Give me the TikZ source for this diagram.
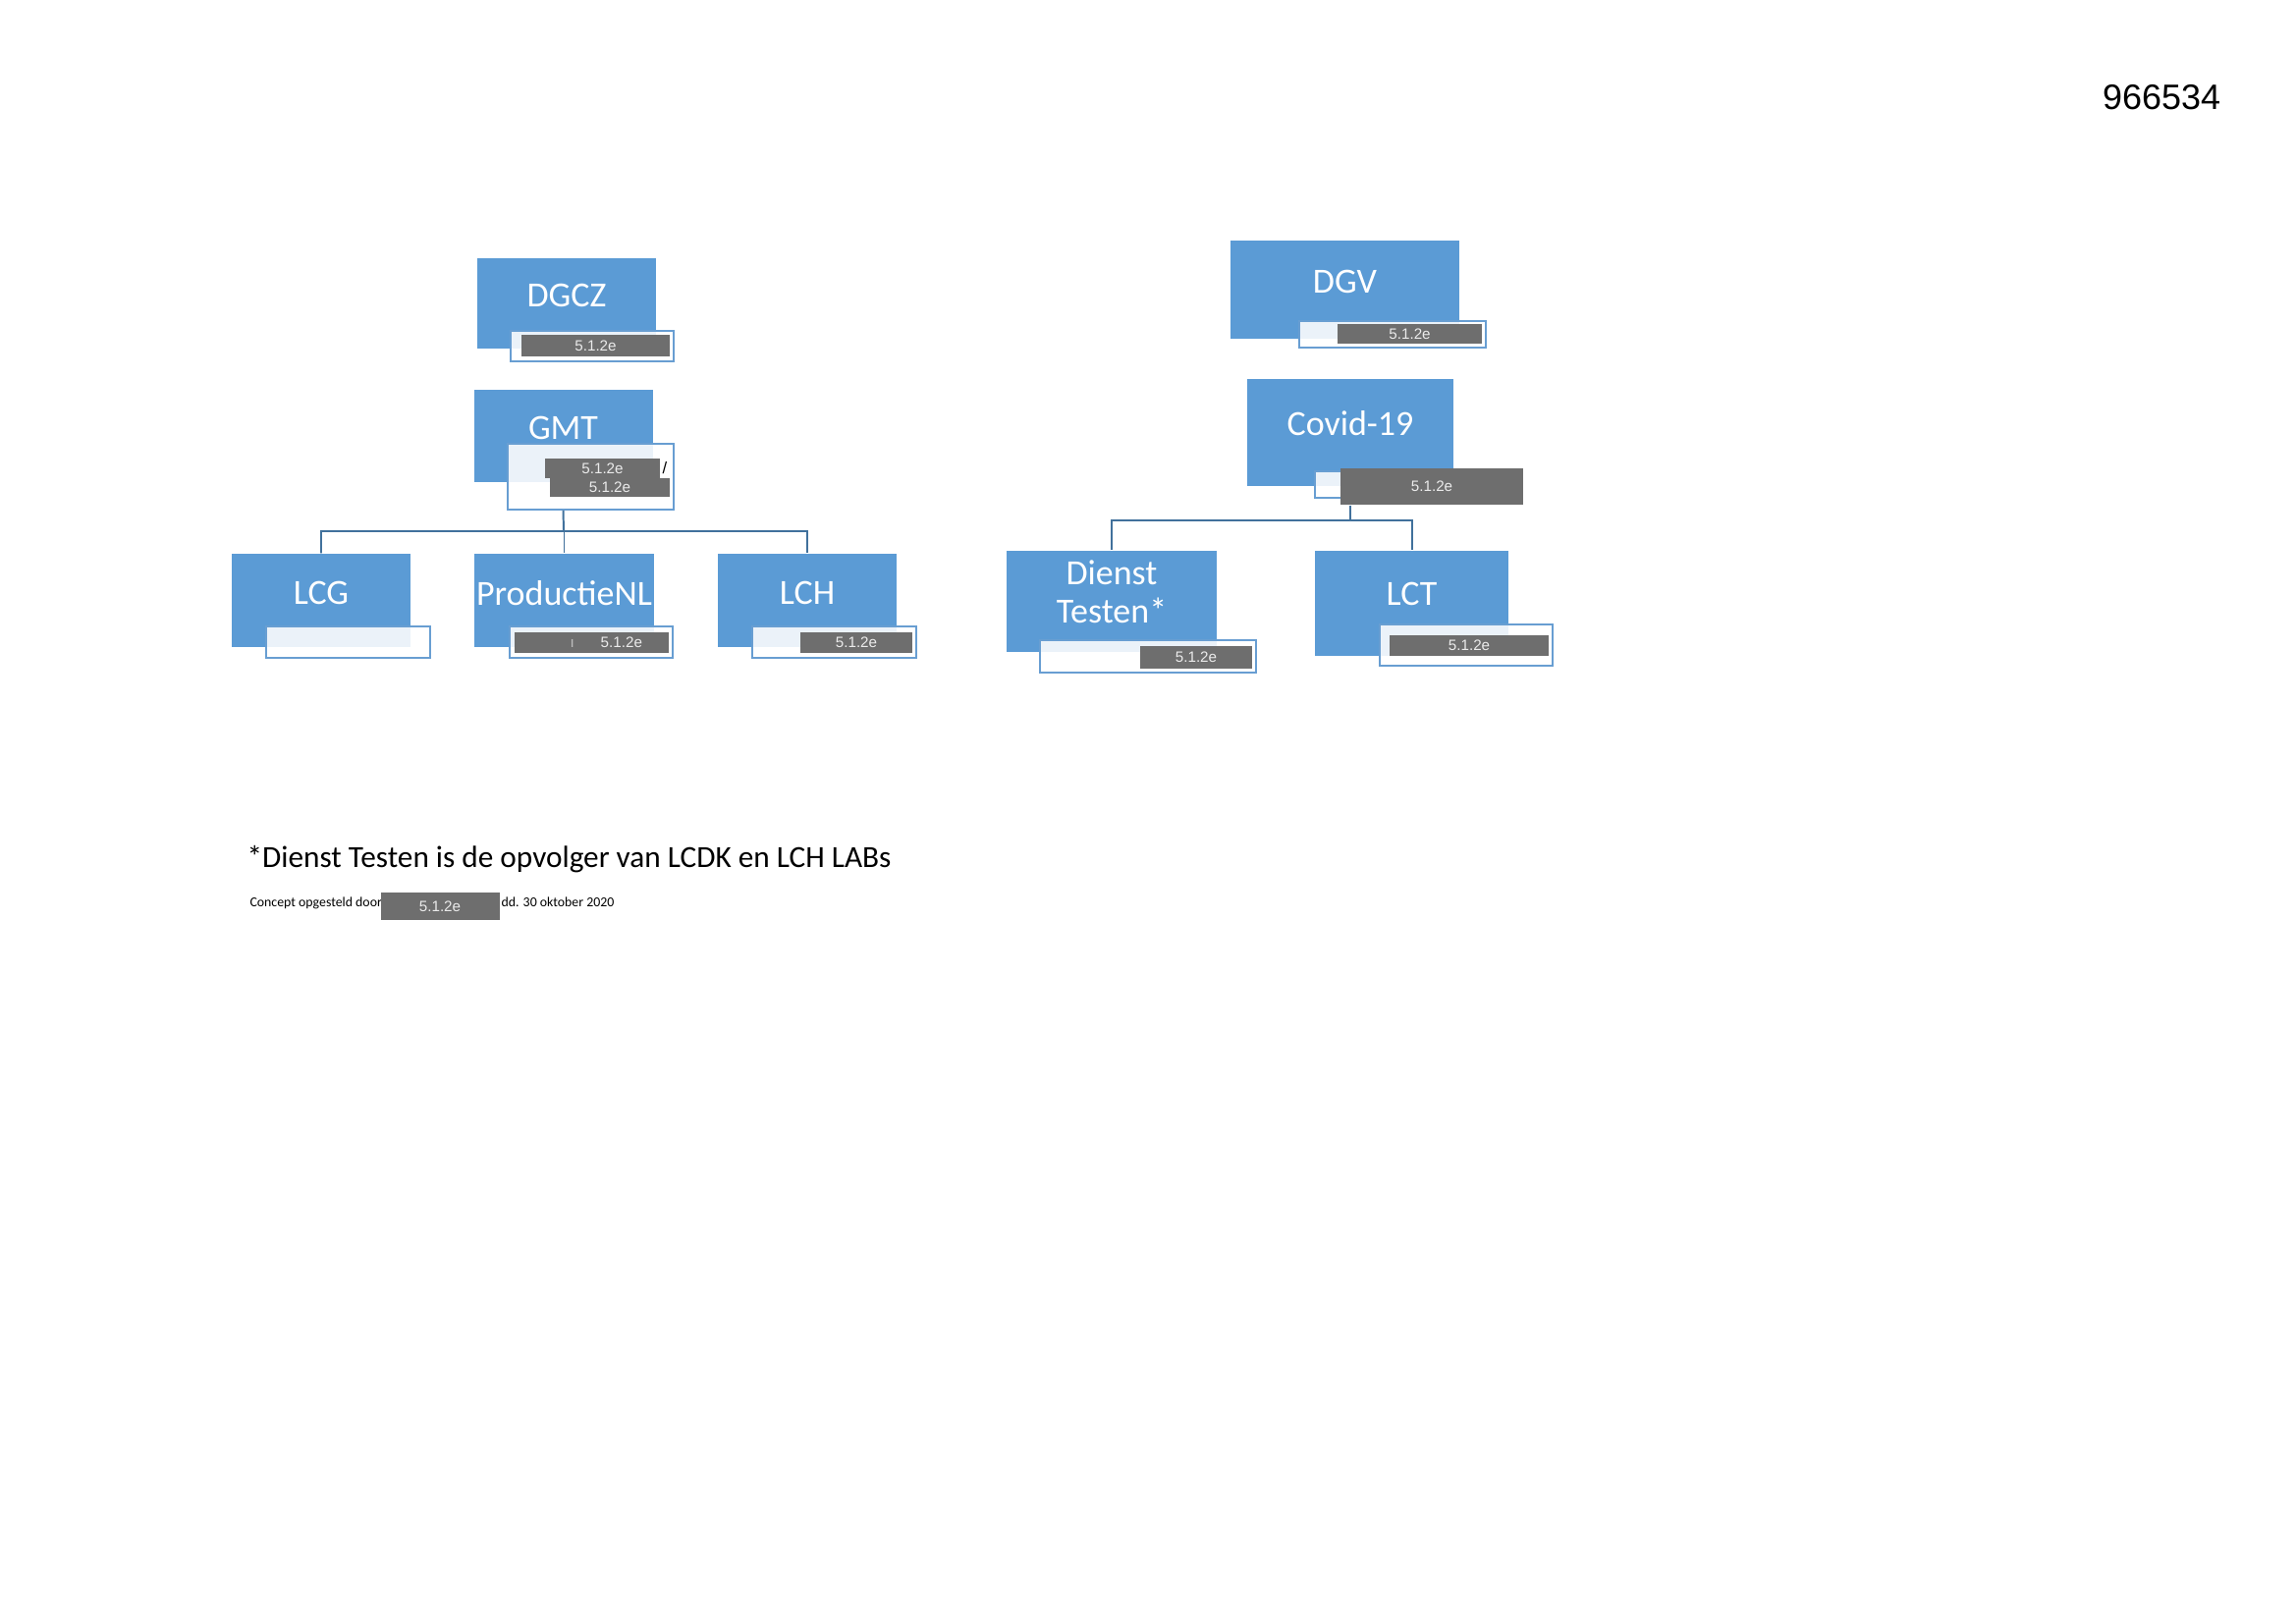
\documentclass[tikz,border=0pt]{standalone}
\usepackage{fontspec}
\setmainfont{Carlito}
\newfontfamily\arialfont{Liberation Sans}
\usepackage{tikz}
\usetikzlibrary{positioning}

\definecolor{boxblue}{RGB}{91,155,213}
\definecolor{tagblue}{RGB}{104,158,210}
\definecolor{linkblue}{RGB}{65,113,156}
\definecolor{redact}{RGB}{110,110,110}

\def\px{0.12703mm}

\begin{document}
\begin{tikzpicture}[x=0.12703mm,y=-0.12703mm,
  sz/.style 2 args={minimum width=#1*\px,minimum height=#2*\px},
  box/.style={fill=boxblue,text=white,inner sep=0pt,align=center,text depth=2mm,
    font=\fontsize{13}{14.4}\selectfont},
  tag/.style={draw=tagblue,line width=.2mm,fill=white,fill opacity=.88,inner sep=0pt},
  redbar/.style={fill=redact,text=white!92!black,inner sep=0pt,
    font=\arialfont\fontsize{5.5}{6}\selectfont},
  link/.style={draw=linkblue,line width=.25mm}]

  % page
  \useasboundingbox (0,0) rectangle (2338,1654);
  \node[anchor=base east,font=\arialfont\fontsize{13}{15}\selectfont] (docnr) at (2271,112) {966534};

  % left tree
  \node[box,sz={182}{92}] (dgcz) at (577,309) {DGCZ};
  \node[tag,sz={166}{31}] (dgcztag) at (603,352.5) {};
  \node[redbar,sz={151}{22}] (dgczbar) at (606.5,352) {5.1.2e};

  \node[box,sz={182}{94}] (gmt) at (573.5,444) {GMT};
  \node[tag,sz={169}{67}] (gmttag) at (601.5,485.5) {};
  \node[redbar,sz={117}{20}] (gmtbara) at (613.5,477) {5.1.2e};
  \node[redbar,sz={122}{19}] (gmtbarb) at (621,496.5) {5.1.2e};
  \node[inner sep=0pt,font=\arialfont\fontsize{6}{7}\selectfont] (gmtslash) at (677,477) {/};

  \node[box,sz={182}{95}] (lcg) at (327,611.5) {LCG};
  \node[tag,sz={167}{32}] (lcgtag) at (354.5,654) {};

  \node[box,sz={183}{95}] (prod) at (574.5,611.5) {ProductieNL};
  \node[tag,sz={166}{32}] (prodtag) at (602,654) {};
  \node[redbar,sz={157}{21},text width=103*\px,align=right] (prodbar) at (602.5,654.5)
    {\textcolor{white!55!redact}{ı}\hspace{3.4mm}5.1.2e};

  \node[box,sz={182}{95}] (lch) at (822,611.5) {LCH};
  \node[tag,sz={167}{32}] (lchtag) at (849.5,654) {};
  \node[redbar,sz={114}{21}] (lchbar) at (872,654.5) {5.1.2e};

  % right tree
  \node[box,sz={233}{100}] (dgv) at (1369.5,295) {DGV};
  \node[tag,sz={190}{27}] (dgvtag) at (1418,340.5) {};
  \node[redbar,sz={147}{20}] (dgvbar) at (1435.5,340) {5.1.2e};

  \node[box,sz={210}{109},text depth=2.5mm] (covid) at (1375,440.5) {Covid-19};
  \node[tag,sz={81}{27}] (covidtag) at (1379.5,493.5) {};
  \node[redbar,sz={186}{37}] (covidbar) at (1458,495.5) {5.1.2e};

  \node[box,sz={214}{103},text depth=2.5mm] (dienst) at (1132,612.5) {Dienst\\Testen*};
  \node[tag,sz={220}{33}] (diensttag) at (1169,668.5) {};
  \node[redbar,sz={114}{23}] (dienstbar) at (1218,669.5) {5.1.2e};

  \node[box,sz={197}{107},text depth=2.5mm] (lct) at (1437.5,614.5) {LCT};
  \node[tag,sz={176}{42}] (lcttag) at (1493,657) {};
  \node[redbar,sz={162}{21}] (lctbar) at (1496,657.5) {5.1.2e};

  % connectors
  \coordinate (gmtsplit) at (574,541);
  \coordinate (covidsplit) at (1375,530);
  \draw[link] (gmt |- gmttag.south) -- (gmtsplit) -| (lcg.north);
  \draw[link] (gmtsplit) -| (lch.north);
  \draw[link] (gmtsplit) -- (gmtsplit -| prod.north) -- (prod.north);
  \draw[link] (covid |- covidbar.south) -- (covidsplit) -| (dienst.north);
  \draw[link] (covidsplit) -| (lct.north);

  % footnote
  \node[anchor=base west,inner sep=0pt,font=\fontsize{11.3}{13}\selectfont] (note) at (251,884)
    {*Dienst Testen is de opvolger van LCDK en LCH LABs};
  \node[anchor=base west,inner sep=0pt,font=\fontsize{5}{6}\selectfont] (concept) at (254,924)
    {Concept opgesteld door};
  \node[redbar,sz={121}{28}] (conceptbar) at (448,923) {5.1.2e};
  \node[anchor=base west,inner sep=0pt,font=\fontsize{5}{6}\selectfont] (date) at (510,924)
    {dd. 30 oktober 2020};
\end{tikzpicture}
\end{document}
